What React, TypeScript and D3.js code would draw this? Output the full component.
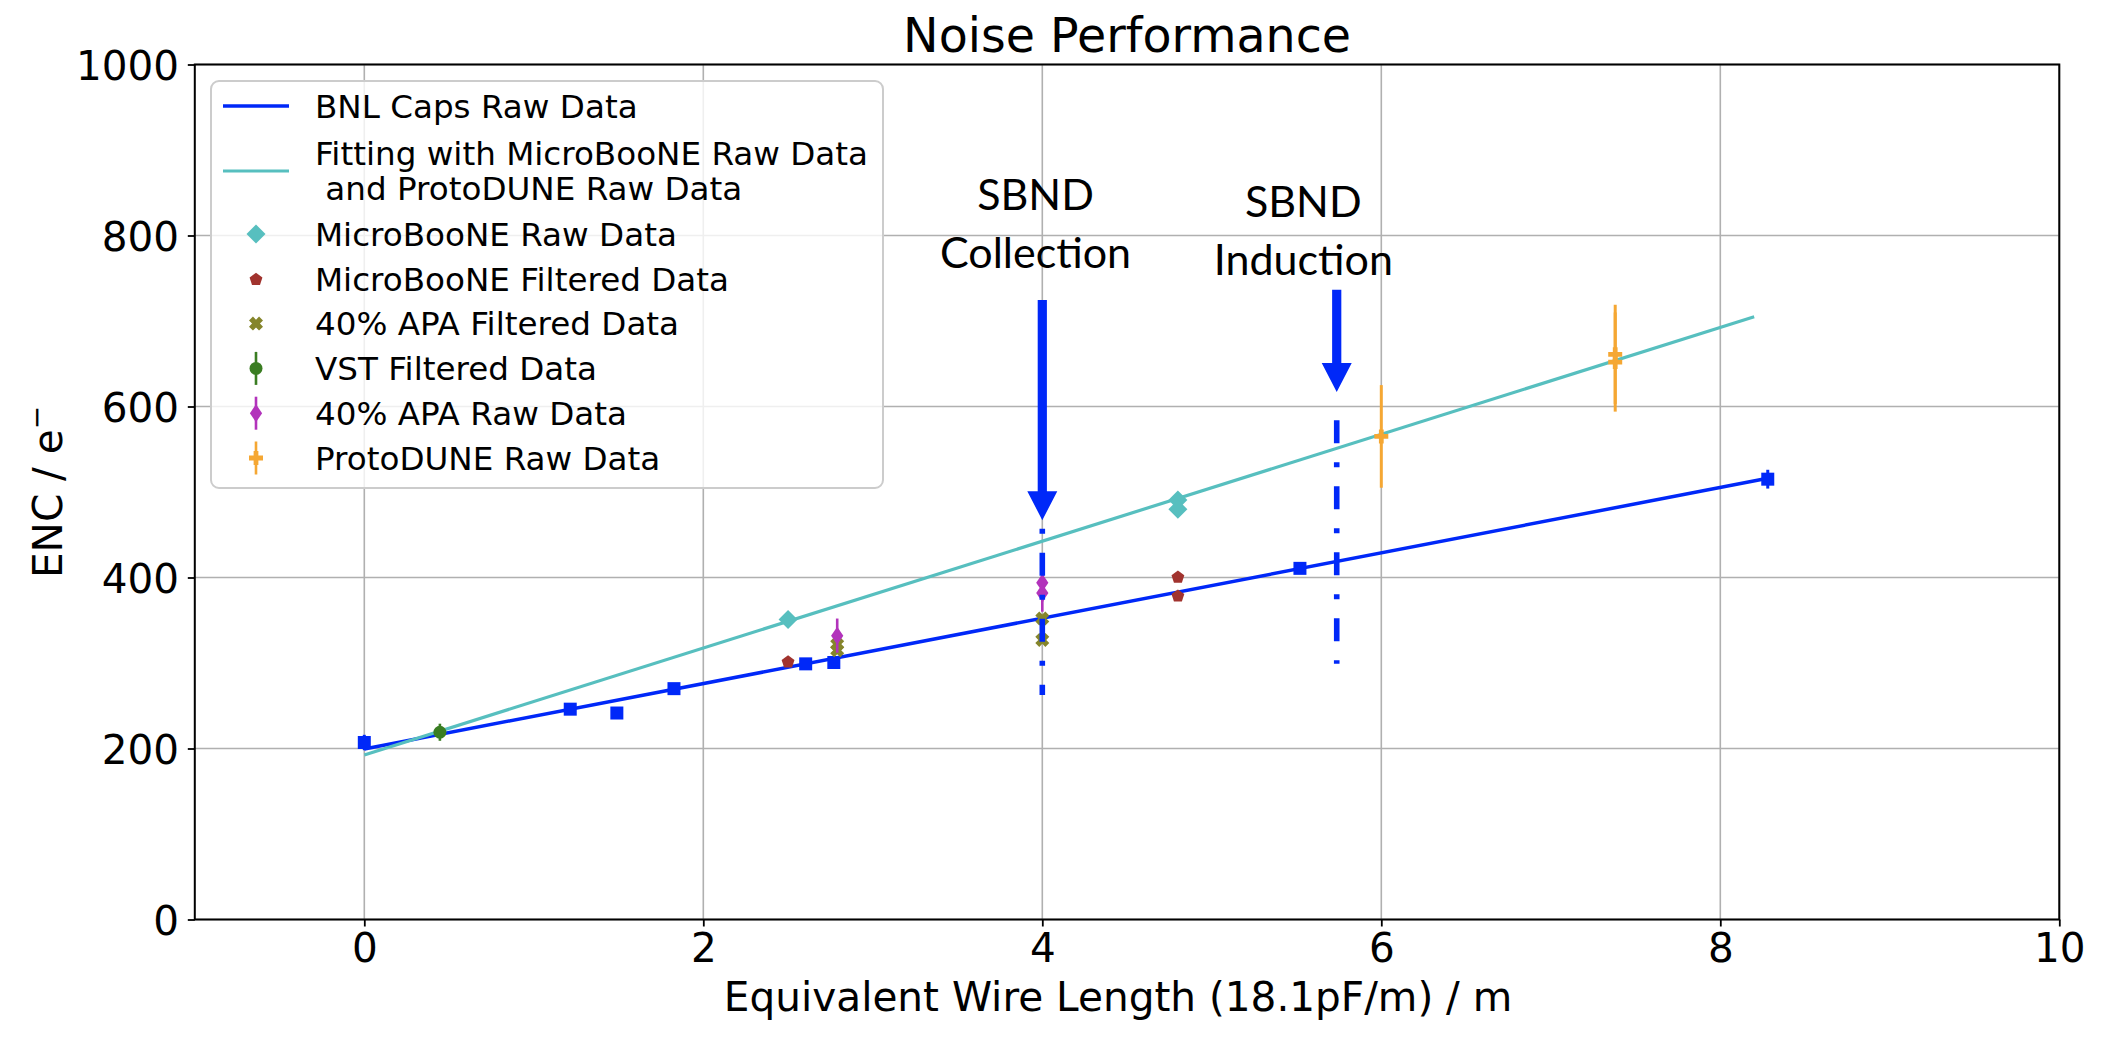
import { useEffect, useRef } from 'react';
import * as d3 from 'd3';

const WIDTH = 2116;
const HEIGHT = 1042;

// Axes
const xDomain: [number, number] = [-1, 10];
const yDomain: [number, number] = [0, 1000];
const xTicks = [0, 2, 4, 6, 8, 10];
const yTicks = [0, 200, 400, 600, 800, 1000];

// BNL caps raw data (squares) + its straight line
const bnlX = [0, 1.215, 1.49, 1.827, 2.604, 2.77, 5.52, 8.28];
const bnlY = [207, 246, 241.5, 270, 299, 300.6, 410.7, 515];
const bnlErr = [9, 6, 6, 6, 6, 6, 6, 11];
const bnlLineX = [0, 8.28];
const bnlLineY = [199.5, 516];

// Fit with MicroBooNE + ProtoDUNE raw data
const fitLineX = [0, 8.2];
const fitLineY = [192.5, 705];

// Scatter series
const uboneRawX = [2.5, 4.8, 4.8];
const uboneRawY = [350.8, 490.6, 479.8];
const uboneFiltX = [2.5, 4.8, 4.8];
const uboneFiltY = [302, 401, 379];
const apaFiltX = [2.79, 2.79, 4.0, 4.0];
const apaFiltY = [322, 315, 352, 327];

// Series with error bars
const vstX = [0.446];
const vstY = [219];
const vstErr = [10];
const apaRawX = [2.79, 4.0, 4.0];
const apaRawY = [332, 394, 382];
const apaRawErr = [20, 22, 22];
const protoX = [6.0, 7.38, 7.38];
const protoY = [565, 661, 652];
const protoErr = [60, 58, 58];

// SBND annotations
const sbndX = [4.0, 5.737];
const sbndArrowTop = [724.6, 736.5];
const sbndArrowTip = [467, 617];
const sbndLineTop = [457, 584];
const sbndLineBottom = [262.6, 299];
const sbndLabelX = [3.96, 5.54];
const sbndLabelY = [830, 822];
const sbndLabels = [
  ['SBND', 'Collection'],
  ['SBND', 'Induction'],
];

const legendLabels = [
  ['BNL Caps Raw Data'],
  ['Fitting with MicroBooNE Raw Data', '\u00a0and ProtoDUNE Raw Data'],
  ['MicroBooNE Raw Data'],
  ['MicroBooNE Filtered Data'],
  ['40% APA Filtered Data'],
  ['VST Filtered Data'],
  ['40% APA Raw Data'],
  ['ProtoDUNE Raw Data'],
];

const BLUE = '#0028f8';
const CYAN = '#57bfbf';
const BROWN = '#a1332e';
const OLIVE = '#85852b';
const GREEN = '#3a7d22';
const MAGENTA = '#b233bb';
const ORANGE = '#f5a733';

const FONT = '"DejaVu Sans", sans-serif';

// custom marker shapes, size = width^2
type Ctx = { moveTo(x: number, y: number): void; lineTo(x: number, y: number): void; closePath(): void };
const poly = (ctx: Ctx, pts: [number, number][]) => {
  pts.forEach(([px, py], i) => (i ? ctx.lineTo(px, py) : ctx.moveTo(px, py)));
  ctx.closePath();
};
const plusPts = (a: number, b: number): [number, number][] => [
  [-b, -a], [b, -a], [b, -b], [a, -b], [a, b], [b, b],
  [b, a], [-b, a], [-b, b], [-a, b], [-a, -b], [-b, -b],
];
const symbolPentagon = {
  draw(ctx: Ctx, size: number) {
    const r = Math.sqrt(size) / 2;
    const pts: [number, number][] = d3.range(5).map((i) => {
      const a = -Math.PI / 2 + (i * 2 * Math.PI) / 5;
      return [r * Math.cos(a), r * Math.sin(a) + r * 0.1];
    });
    poly(ctx, pts);
  },
};
const symbolDiamond = {
  draw(ctx: Ctx, size: number) {
    const r = Math.sqrt(size) / 2;
    poly(ctx, [[0, -r], [r, 0], [0, r], [-r, 0]]);
  },
};
const symbolThinDiamond = {
  draw(ctx: Ctx, size: number) {
    const r = Math.sqrt(size) / 2;
    poly(ctx, [[0, -r], [r * 0.68, 0], [0, r], [-r * 0.68, 0]]);
  },
};
const symbolFilledX = {
  draw(ctx: Ctx, size: number) {
    const w = Math.sqrt(size);
    const b = w * 0.2;
    const a = w / Math.SQRT2 - b;
    const pts = plusPts(a, b).map(
      ([px, py]) => [(px - py) / Math.SQRT2, (px + py) / Math.SQRT2] as [number, number]
    );
    poly(ctx, pts);
  },
};
const symbolPlus = {
  draw(ctx: Ctx, size: number) {
    const w = Math.sqrt(size);
    poly(ctx, plusPts(w / 2, w * 0.17));
  },
};
const symbolBox = {
  draw(ctx: Ctx, size: number) {
    const r = Math.sqrt(size) / 2;
    poly(ctx, [[-r, -r], [r, -r], [r, r], [-r, r]]);
  },
};
const symbolDot = {
  draw(ctx: Ctx, size: number) {
    const r = Math.sqrt(size) / 2;
    (ctx as any).moveTo(r, 0);
    (ctx as any).arc(0, 0, r, 0, 2 * Math.PI);
  },
};

const markerPath = (type: any, w: number) => d3.symbol(type, w * w)() as string;

export default function App() {
  const svgRef = useRef<SVGSVGElement>(null);

  useEffect(() => {
    if (!svgRef.current) return;
    const svg = d3.select(svgRef.current);
    svg.selectAll('*').remove();

    const margin = { top: 64.5, right: WIDTH - 2059.3, bottom: HEIGHT - 919.5, left: 194.8 };
    const x = d3.scaleLinear().domain(xDomain).range([margin.left, WIDTH - margin.right]);
    const y = d3.scaleLinear().domain(yDomain).range([HEIGHT - margin.bottom, margin.top]);
    const [x0, x1] = x.range();
    const [y0, y1] = y.range();

    svg.append('rect').attr('width', WIDTH).attr('height', HEIGHT).attr('fill', '#fff');

    // Grid
    const grid = svg.append('g').attr('stroke', '#b0b0b0').attr('stroke-width', 1.6);
    xTicks.forEach((t) => {
      grid.append('line').attr('x1', x(t)).attr('x2', x(t)).attr('y1', y0).attr('y2', y1);
    });
    yTicks.forEach((t) => {
      grid.append('line').attr('x1', x0).attr('x2', x1).attr('y1', y(t)).attr('y2', y(t));
    });

    // Axes
    const xAxis = svg
      .append('g')
      .attr('transform', `translate(0,${y0})`)
      .call(d3.axisBottom(x).tickValues(xTicks).tickFormat(d3.format('d')).tickSize(7).tickSizeOuter(0).tickPadding(6.5));
    const yAxis = svg
      .append('g')
      .attr('transform', `translate(${x0},0)`)
      .call(d3.axisLeft(y).tickValues(yTicks).tickFormat(d3.format('d')).tickSize(7).tickSizeOuter(0).tickPadding(8.8));
    [xAxis, yAxis].forEach((ax) => {
      ax.select('.domain').remove();
      ax.selectAll('line').attr('stroke', '#000').attr('stroke-width', 1.8);
      ax.selectAll('text').attr('font-family', FONT).attr('font-size', 40.5).attr('fill', '#000');
    });
    yAxis.selectAll('text').attr('dy', '0.36em');

    // Straight lines
    const drawLine = (xs: number[], ys: number[], color: string, w: number) => {
      const gen = d3
        .line<number>()
        .x((d) => x(d))
        .y((_, i) => y(ys[i]));
      svg
        .append('path')
        .attr('d', gen(xs))
        .attr('fill', 'none')
        .attr('stroke', color)
        .attr('stroke-width', w);
    };
    drawLine(bnlLineX, bnlLineY, BLUE, 3.5);
    drawLine(fitLineX, fitLineY, CYAN, 3.2);

    // Markers + error bars
    const drawSeries = (
      xs: number[],
      ys: number[],
      type: any,
      w: number,
      color: string,
      errs?: number[],
      errW = 2.6
    ) => {
      const g = svg.append('g');
      if (errs) {
        xs.forEach((xv, i) => {
          g.append('line')
            .attr('x1', x(xv))
            .attr('x2', x(xv))
            .attr('y1', y(ys[i] - errs[i]))
            .attr('y2', y(ys[i] + errs[i]))
            .attr('stroke', color)
            .attr('stroke-width', errW);
        });
      }
      xs.forEach((xv, i) => {
        g.append('path')
          .attr('d', markerPath(type, w))
          .attr('transform', `translate(${x(xv)},${y(ys[i])})`)
          .attr('fill', color);
      });
    };
    drawSeries(bnlX, bnlY, symbolBox, 13, BLUE, bnlErr, 3);
    drawSeries(uboneRawX, uboneRawY, symbolDiamond, 19, CYAN);
    drawSeries(uboneFiltX, uboneFiltY, symbolPentagon, 13.5, BROWN);
    drawSeries(apaFiltX, apaFiltY, symbolFilledX, 14, OLIVE);
    drawSeries(vstX, vstY, symbolDot, 13, GREEN, vstErr);
    drawSeries(apaRawX, apaRawY, symbolThinDiamond, 18, MAGENTA, apaRawErr);
    drawSeries(protoX, protoY, symbolPlus, 14, ORANGE, protoErr, 3);

    // SBND dash-dot lines and arrows
    sbndX.forEach((sx, i) => {
      const cx = x(sx);
      const top = y(sbndLineTop[i]);
      svg
        .append('line')
        .attr('x1', cx)
        .attr('x2', cx)
        .attr('y1', top)
        .attr('y2', y(sbndLineBottom[i]))
        .attr('stroke', BLUE)
        .attr('stroke-width', 5.6)
        .attr('stroke-dasharray', '23 19 5 19')
        .attr('stroke-dashoffset', i === 0 ? 42 : 0);

      const tip = y(sbndArrowTip[i]);
      const headTop = tip - 29;
      const pts: [number, number][] = [
        [cx - 4.6, y(sbndArrowTop[i])],
        [cx + 4.6, y(sbndArrowTop[i])],
        [cx + 4.6, headTop],
        [cx + 15, headTop],
        [cx, tip],
        [cx - 15, headTop],
        [cx - 4.6, headTop],
      ];
      svg
        .append('path')
        .attr('d', (d3.line()(pts) as string) + 'Z')
        .attr('fill', BLUE);

      const label = svg
        .append('text')
        .attr('text-anchor', 'middle')
        .attr('font-family', 'Lato, "Open Sans", sans-serif')
        .attr('font-size', 43)
        .attr('fill', '#000');
      sbndLabels[i].forEach((t, k) => {
        label
          .append('tspan')
          .attr('x', x(sbndLabelX[i]))
          .attr('y', y(sbndLabelY[i]) + k * 58)
          .text(t);
      });
    });

    // Frame
    svg
      .append('rect')
      .attr('x', x0)
      .attr('y', y1)
      .attr('width', x1 - x0)
      .attr('height', y0 - y1)
      .attr('fill', 'none')
      .attr('stroke', '#000')
      .attr('stroke-width', 2);

    // Title + axis labels
    svg
      .append('text')
      .attr('x', (x0 + x1) / 2)
      .attr('y', 52)
      .attr('text-anchor', 'middle')
      .attr('font-family', FONT)
      .attr('font-size', 47.5)
      .text('Noise Performance');

    svg
      .append('text')
      .attr('x', (x0 + x1) / 2 - 9)
      .attr('y', 1011)
      .attr('text-anchor', 'middle')
      .attr('font-family', FONT)
      .attr('font-size', 40.6)
      .text('Equivalent Wire Length (18.1pF/m) / m');

    const yl = svg
      .append('text')
      .attr('transform', `translate(62,${(y0 + y1) / 2}) rotate(-90)`)
      .attr('text-anchor', 'middle')
      .attr('font-family', FONT)
      .attr('font-size', 40.6);
    yl.append('tspan').text('ENC / e');
    yl.append('tspan').attr('dy', -16).attr('font-size', 28).text('\u2212');

    // Legend
    const lg = svg.append('g');
    lg.append('rect')
      .attr('x', 211)
      .attr('y', 81)
      .attr('width', 672)
      .attr('height', 407)
      .attr('rx', 8)
      .attr('fill', '#fff')
      .attr('fill-opacity', 0.8)
      .attr('stroke', '#cccccc')
      .attr('stroke-width', 2);

    const rowCenters = [106, 171, 234];
    for (let k = 3; k < legendLabels.length; k++) rowCenters.push(234 + (k - 2) * 44.8);

    const handles: { kind: 'line' | 'marker'; color: string; type?: any; w?: number; err?: boolean; lw?: number }[] = [
      { kind: 'line', color: BLUE, lw: 3.5 },
      { kind: 'line', color: CYAN, lw: 3.2 },
      { kind: 'marker', color: CYAN, type: symbolDiamond, w: 19 },
      { kind: 'marker', color: BROWN, type: symbolPentagon, w: 13.5 },
      { kind: 'marker', color: OLIVE, type: symbolFilledX, w: 14 },
      { kind: 'marker', color: GREEN, type: symbolDot, w: 13, err: true },
      { kind: 'marker', color: MAGENTA, type: symbolThinDiamond, w: 18, err: true },
      { kind: 'marker', color: ORANGE, type: symbolPlus, w: 14, err: true },
    ];

    legendLabels.forEach((lines, i) => {
      const cy = rowCenters[i];
      const h = handles[i];
      if (h.kind === 'line') {
        lg.append('line')
          .attr('x1', 223)
          .attr('x2', 289)
          .attr('y1', cy)
          .attr('y2', cy)
          .attr('stroke', h.color)
          .attr('stroke-width', h.lw!);
      } else {
        if (h.err) {
          lg.append('line')
            .attr('x1', 256)
            .attr('x2', 256)
            .attr('y1', cy - 16.5)
            .attr('y2', cy + 16.5)
            .attr('stroke', h.color)
            .attr('stroke-width', 2.6);
        }
        lg.append('path')
          .attr('d', markerPath(h.type, h.w!))
          .attr('transform', `translate(256,${cy})`)
          .attr('fill', h.color);
      }
      const t = lg
        .append('text')
        .attr('font-family', FONT)
        .attr('font-size', 32.6)
        .attr('fill', '#000');
      lines.forEach((s, k) => {
        t.append('tspan')
          .attr('x', 315)
          .attr('y', cy + 11.8 + (k - (lines.length - 1) / 2) * 35)
          .text(s);
      });
    });
  }, []);

  return (
    <svg
      ref={svgRef}
      width={WIDTH}
      height={HEIGHT}
      style={{ position: 'absolute', left: 0, top: 0 }}
    />
  );
}
